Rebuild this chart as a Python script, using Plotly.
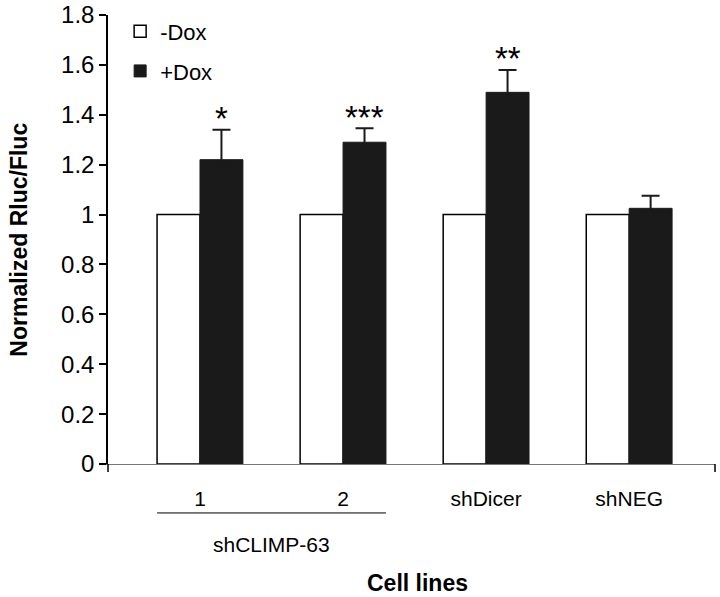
import plotly.graph_objects as go

categories = ["1", "2", "shDicer", "shNEG"]
minus_dox = [1.0, 1.0, 1.0, 1.0]
plus_dox = [1.22, 1.29, 1.49, 1.025]
plus_dox_err = [0.12, 0.056, 0.09, 0.05]
stars = ["*", "***", "**", ""]
y_ticks = [0, 0.2, 0.4, 0.6, 0.8, 1, 1.2, 1.4, 1.6, 1.8]
y_tick_text = ["0", "0.2", "0.4", "0.6", "0.8", "1", "1.2", "1.4", "1.6", "1.8"]

FONT = "Liberation Sans, Arial, Helvetica, sans-serif"
DARK = "#1a1a1a"

fig = go.Figure()
fig.add_trace(go.Bar(
    x=categories, y=minus_dox, name="-Dox", legendgroup="a",
    marker=dict(color="white", line=dict(color="black", width=1.5)),
))
# the lower half of the error bar is hidden inside the (same-coloured) bar,
# so only the upward whisker is visible as in the reference
hidden_minus = [0.02] * len(plus_dox_err)
fig.add_trace(go.Bar(
    x=categories, y=plus_dox, name="+Dox", legendgroup="b",
    marker=dict(color=DARK, line=dict(color=DARK, width=1)),
    error_y=dict(type="data", array=plus_dox_err, arrayminus=hidden_minus,
                 symmetric=False, color=DARK, thickness=2, width=9),
))

# significance stars above +Dox bars (offset to the right half of each group)
for i, (c, v, e, s) in enumerate(zip(categories, plus_dox, plus_dox_err, stars)):
    if s:
        fig.add_annotation(x=i + 0.15, y=v + e, xref="x", yref="y", text=s,
                           showarrow=False, yanchor="middle", yshift=11,
                           font=dict(size=33, color="black", family=FONT))

# bracket under groups 1 and 2
fig.add_shape(type="line", xref="x", yref="paper", x0=-0.3, x1=1.3,
              y0=-0.109, y1=-0.109, line=dict(color="black", width=1))
fig.add_annotation(x=0.5, y=-0.18, xref="x", yref="paper", text="shCLIMP-63",
                   showarrow=False, yanchor="middle",
                   font=dict(size=21, color="black", family=FONT))
fig.add_annotation(x=0.51, y=-0.265, xref="paper", yref="paper", text="<b>Cell lines</b>",
                   showarrow=False, yanchor="middle",
                   font=dict(size=23, color="black", family=FONT))
fig.add_annotation(x=-0.148, y=0.5, xref="paper", yref="paper",
                   text="<b>Normalized Rluc/Fluc</b>", textangle=-90,
                   showarrow=False, xanchor="center", yanchor="middle",
                   font=dict(size=23, color="black", family=FONT))

# small end ticks of the axes
fig.add_shape(type="line", xref="paper", yref="paper", x0=1, x1=1, y0=0, y1=-0.018,
              line=dict(color="black", width=1.5))
fig.add_shape(type="line", xref="paper", yref="paper", x0=0, x1=0, y0=0, y1=-0.018,
              line=dict(color="black", width=1.5))

fig.update_layout(
    width=720, height=597,
    margin=dict(l=108, r=5, t=15, b=133),
    paper_bgcolor="white", plot_bgcolor="white",
    barmode="group", bargap=0.4, bargroupgap=0,
    font=dict(family=FONT, color="black"),
    showlegend=True,
    legend=dict(x=0.02, y=1.01, xanchor="left", yanchor="top",
                font=dict(size=22, color="black", family=FONT),
                tracegroupgap=8, bgcolor="rgba(0,0,0,0)", itemwidth=30),
    xaxis=dict(range=[-0.643, 3.6], tickvals=categories, ticktext=categories,
               showline=True, linecolor="#777777", linewidth=1.2,
               ticks="", ticklabelstandoff=16, automargin=False,
               tickfont=dict(size=21, color="black", family=FONT),
               showgrid=False, zeroline=False),
    yaxis=dict(range=[0, 1.8], tickvals=y_ticks, ticktext=y_tick_text,
               showline=True, linecolor="black", linewidth=1.5, automargin=False,
               ticks="outside", ticklen=7, tickwidth=1.5, tickcolor="black",
               tickfont=dict(size=24, color="black", family=FONT),
               showgrid=False, zeroline=False),
)

fig.write_html("out.html", config={"displayModeBar": False},
               post_script="document.body.style.margin='0';document.body.style.overflow='hidden';")
